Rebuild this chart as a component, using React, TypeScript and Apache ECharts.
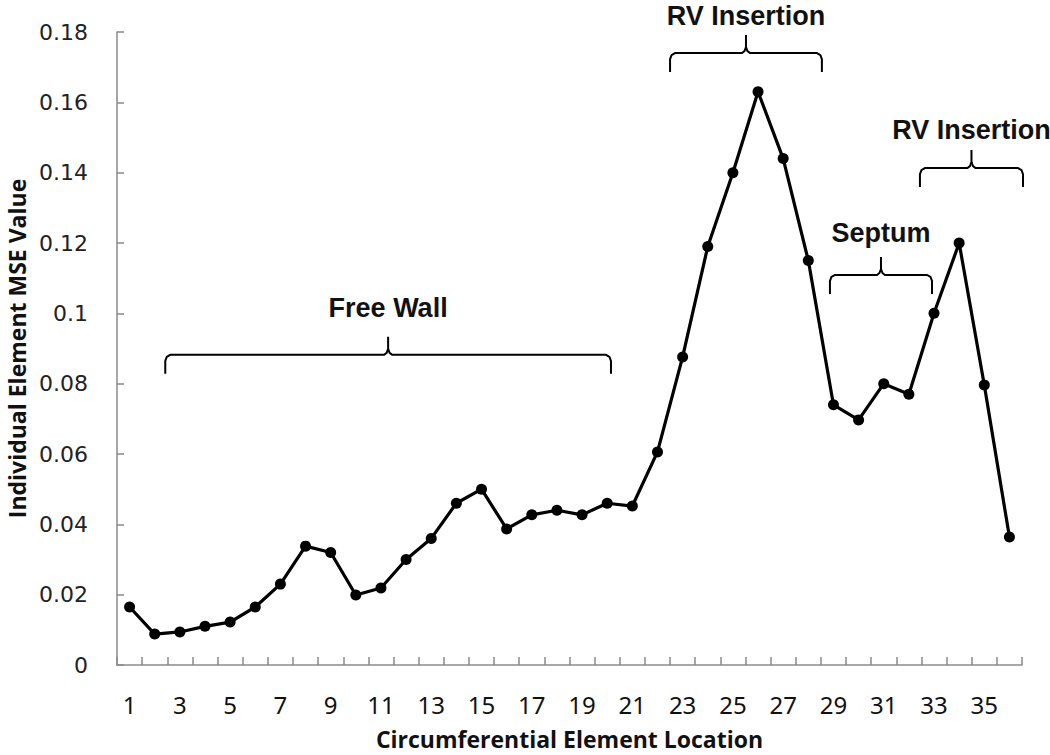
import React, { useEffect, useRef } from "react";
import * as echarts from "echarts";

const categories: string[] = Array.from({ length: 36 }, (_, i) => String(i + 1));
const mseValues: number[] = [
  0.0165, 0.0088, 0.0094, 0.011, 0.0122, 0.0165, 0.023, 0.0338, 0.032, 0.0199,
  0.0219, 0.030, 0.036, 0.046, 0.050, 0.0387, 0.0427, 0.044, 0.0427, 0.046,
  0.0452, 0.0606, 0.0876, 0.119, 0.140, 0.163, 0.144, 0.115, 0.074, 0.0697,
  0.080, 0.077, 0.100, 0.120, 0.0796, 0.0364,
];
const yTicks: number[] = [0, 0.02, 0.04, 0.06, 0.08, 0.1, 0.12, 0.14, 0.16, 0.18];

// Bracket annotations in data units (1-based element positions, value units)
const bracketLabels: string[] = ["Free Wall", "RV Insertion", "Septum", "RV Insertion"];
const bracketStart: number[] = [2.42, 22.5, 28.86, 32.44];
const bracketEnd: number[] = [20.15, 28.54, 32.92, 36.54];
const bracketLevel: number[] = [0.0882, 0.174, 0.1109, 0.1413];
const bracketLabelLevel: number[] = [0.1015, 0.1845, 0.1228, 0.1521];

export default function App() {
  const ref = useRef<HTMLDivElement>(null);
  useEffect(() => {
    if (!ref.current) return;
    const chart = echarts.init(ref.current, undefined, { renderer: "svg" });
    chart.setOption({
      animation: false,
      backgroundColor: "#ffffff",
      grid: {
        left: 117,
        right: 28,
        top: 32,
        bottom: 90,
        containLabel: false,
        outerBoundsMode: "none",
      },
      xAxis: {
        type: "category",
        data: categories,
        boundaryGap: true,
        name: "Circumferential Element Location",
        nameLocation: "middle",
        nameGap: 62,
        nameTextStyle: { fontFamily: "Open Sans", fontWeight: "bold", fontSize: 23, color: "#111" },
        axisLine: { lineStyle: { color: "#8a8a8a", width: 1.5 } },
        axisTick: { show: true, inside: true, length: 8, interval: 0, lineStyle: { color: "#8a8a8a", width: 1.5 } },
        axisLabel: {
          interval: 1,
          margin: 27,
          fontFamily: "Noto Sans",
          fontSize: 24,
          color: "#111",
        },
        splitLine: { show: false },
      },
      yAxis: {
        type: "value",
        min: 0,
        max: 0.18,
        interval: 0.02,
        name: "Individual Element MSE Value",
        nameLocation: "middle",
        nameGap: 89,
        nameRotate: 90,
        nameTextStyle: { fontFamily: "Open Sans", fontWeight: "bold", fontSize: 23, color: "#111" },
        axisLine: { show: true, lineStyle: { color: "#8a8a8a", width: 1.5 } },
        axisTick: { show: true, inside: true, length: 7, lineStyle: { color: "#8a8a8a", width: 1.5 } },
        axisLabel: {
          margin: 29,
          fontFamily: "DejaVu Sans",
          fontSize: 22,
          color: "#222",
          formatter: (v: number) => {
            const t = yTicks.find((x) => Math.abs(x - v) < 1e-9);
            return String(parseFloat((t ?? v).toFixed(2)));
          },
        },
        splitLine: { show: false },
      },
      series: [
        {
          type: "line",
          data: mseValues,
          symbol: "circle",
          symbolSize: 11,
          lineStyle: { color: "#000", width: 3.2 },
          itemStyle: { color: "#000" },
        },
      ],
    });

    const x0 = chart.convertToPixel({ xAxisIndex: 0 }, 0) as number;
    const x1 = chart.convertToPixel({ xAxisIndex: 0 }, 1) as number;
    const px = (pos: number) => x0 + (pos - 1) * (x1 - x0);
    const py = (v: number) => chart.convertToPixel({ yAxisIndex: 0 }, v) as number;

    const elements: any[] = [];
    const ls = { stroke: "#000", lineWidth: 2, fill: null };
    bracketLabels.forEach((label, i) => {
      const a = px(bracketStart[i]);
      const b = px(bracketEnd[i]);
      const t = (a + b) / 2;
      const y = py(bracketLevel[i]);
      elements.push({
        type: "polyline",
        silent: true,
        shape: {
          points: [
            [a, y + 19], [a, y + 6], [a + 1.5, y + 2], [a + 5, y], [t - 4, y],
            [t - 1.5, y - 2], [t, y - 6], [t, y - 18],
          ],
        },
        style: ls,
      });
      elements.push({
        type: "polyline",
        silent: true,
        shape: {
          points: [
            [t, y - 6], [t + 1.5, y - 2], [t + 4, y], [b - 5, y], [b - 1.5, y + 2],
            [b, y + 6], [b, y + 19],
          ],
        },
        style: ls,
      });
      elements.push({
        type: "text",
        silent: true,
        x: t,
        y: Math.max(py(bracketLabelLevel[i]), 15),
        style: {
          text: label,
          fill: "#111",
          font: "bold 27px 'Liberation Sans', Arial, sans-serif",
          textAlign: "center",
          textVerticalAlign: "middle",
        },
      });
    });
    chart.setOption({ graphic: { elements } });

    return () => chart.dispose();
  }, []);
  return (
    <div
      ref={ref}
      style={{ position: "absolute", left: 0, top: 0, width: 1050, height: 755 }}
    />
  );
}
